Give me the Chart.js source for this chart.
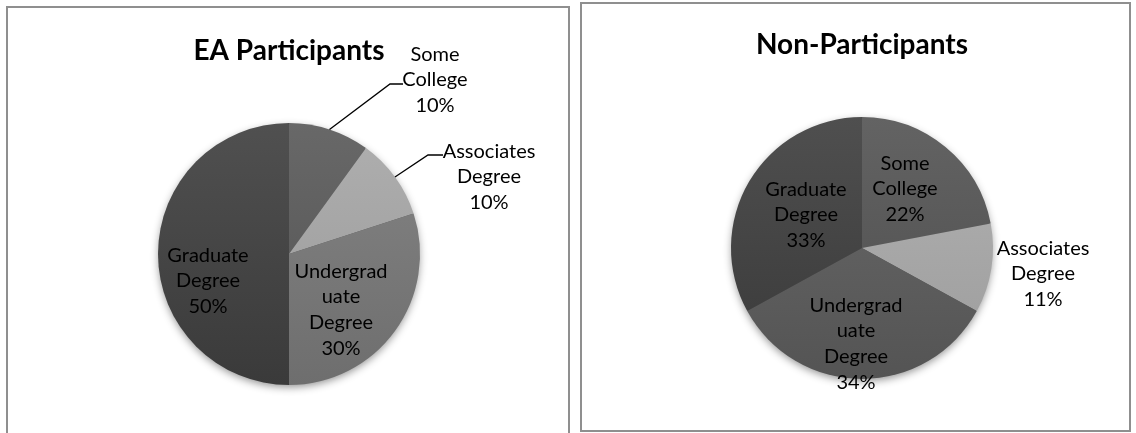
<!DOCTYPE html>
<html lang="en">
<head>
<meta charset="UTF-8">
<title>Education Level: EA Participants vs Non-Participants</title>
<script src="https://cdn.jsdelivr.net/npm/chart.js"></script>
<style>
  html, body { margin: 0; padding: 0; background: #fff; }
  body { width: 1136px; height: 433px; position: relative; overflow: hidden; font-family: Lato, sans-serif; }
  .panel { position: absolute; box-sizing: border-box; border: 2px solid #8f8f8f; background: #fff; }
  #panelA { left: 6px; top: 6px; width: 564px; height: 440px; }
  #panelB { left: 580px; top: 2px; width: 551px; height: 430px; }
  .holder { position: absolute; top: 0; height: 433px; }
  #holderA { left: 0; width: 575px; }
  #holderB { left: 576px; width: 560px; }
</style>
</head>
<body>
<div class="panel" id="panelA"></div>
<div class="panel" id="panelB"></div>
<div class="holder" id="holderA"><canvas id="eaChart"></canvas></div>
<div class="holder" id="holderB"><canvas id="nonChart"></canvas></div>

<script>
const categories = ['Some College', 'Associates Degree', 'Undergraduate Degree', 'Graduate Degree'];
const eaParticipants = [10, 10, 30, 50];
const nonParticipants = [22, 11, 34, 33];

// how each category name breaks over lines inside the pie labels
const labelLines = {
  'Some College': ['Some', 'College'],
  'Associates Degree': ['Associates', 'Degree'],
  'Undergraduate Degree': ['Undergrad', 'uate', 'Degree'],
  'Graduate Degree': ['Graduate', 'Degree']
};

const eaColors = ['#5c5c5c', '#a3a3a3', '#787878', '#444444'];
const nonColors = ['#575757', '#a6a6a6', '#5e5e5e', '#434343'];

// label centre offsets from the pie centre, with optional leader line bends
const eaPlace = [
  { dx: 146, dy: -175, leader: [[-45, 5], [-32, 5]] },
  { dx: 200, dy: -78, leader: [[-61, -21], [-46, -21]] },
  { dx: 52, dy: 55 },
  { dx: -81, dy: 26 }
];
const nonPlace = [
  { dx: 43, dy: -60 },
  { dx: 181, dy: 25 },
  { dx: -6, dy: 95 },
  { dx: -56, dy: -34 }
];

const LABEL_FONT = '20px Lato';
const LINE_H = 25.6;
const CAP = 14.3;

function shade(hex, amt) {
  const v = parseInt(hex.slice(1), 16);
  const c = [v >> 16, (v >> 8) & 255, v & 255].map(n => Math.max(0, Math.min(255, n + amt)));
  return `rgb(${c[0]}, ${c[1]}, ${c[2]})`;
}

function sliceFill(colors) {
  return (ctx) => {
    const base = colors[ctx.dataIndex];
    const area = ctx.chart.chartArea;
    if (!area) return base;
    const g = ctx.chart.ctx.createLinearGradient(0, area.top, 0, area.bottom);
    g.addColorStop(0, shade(base, 12));
    g.addColorStop(1, shade(base, -10));
    return g;
  };
}

function sliceLabels(place) {
  return {
    id: 'sliceLabels',
    beforeDatasetsDraw(chart) {
      // soft shadow under the whole pie
      const arc = chart.getDatasetMeta(0).data[0];
      if (!arc) return;
      const { x, y, outerRadius } = arc.getProps(['x', 'y', 'outerRadius'], true);
      const ctx = chart.ctx;
      ctx.save();
      ctx.shadowColor = 'rgba(0, 0, 0, 0.45)';
      ctx.shadowBlur = 9;
      ctx.shadowOffsetY = 3;
      ctx.fillStyle = '#555';
      ctx.beginPath();
      ctx.arc(x, y, outerRadius - 1, 0, Math.PI * 2);
      ctx.fill();
      ctx.restore();
    },
    afterDatasetsDraw(chart) {
      const ctx = chart.ctx;
      const meta = chart.getDatasetMeta(0);
      const values = chart.data.datasets[0].data;
      ctx.save();
      ctx.font = LABEL_FONT;
      ctx.fillStyle = '#000';
      ctx.strokeStyle = '#000';
      ctx.lineWidth = 1.3;
      ctx.textAlign = 'center';
      ctx.textBaseline = 'alphabetic';
      meta.data.forEach((arc, i) => {
        const p = place[i];
        const { x, y, outerRadius, startAngle, endAngle } =
          arc.getProps(['x', 'y', 'outerRadius', 'startAngle', 'endAngle'], true);
        const cx = x + p.dx;
        const cy = y + p.dy;
        const lines = [...labelLines[chart.data.labels[i]], values[i] + '%'];
        const first = cy - (lines.length - 1) * LINE_H / 2 + CAP / 2;
        lines.forEach((t, k) => ctx.fillText(t, cx, first + k * LINE_H));
        if (p.leader) {
          const mid = (startAngle + endAngle) / 2;
          ctx.beginPath();
          ctx.moveTo(x + Math.cos(mid) * outerRadius, y + Math.sin(mid) * outerRadius);
          p.leader.forEach(([lx, ly]) => ctx.lineTo(cx + lx, cy + ly));
          ctx.stroke();
        }
      });
      ctx.restore();
    }
  };
}

function makeChart(id, title, values, colors, place, pad, titlePad) {
  return new Chart(document.getElementById(id), {
    type: 'pie',
    data: {
      labels: categories,
      datasets: [{
        data: values,
        backgroundColor: sliceFill(colors),
        borderWidth: 0,
        offset: 0,
        hoverOffset: 0
      }]
    },
    options: {
      responsive: true,
      maintainAspectRatio: false,
      animation: false,
      events: [],
      layout: { padding: pad },
      plugins: {
        legend: { display: false },
        tooltip: { enabled: false },
        title: {
          display: true,
          text: title,
          color: '#000',
          font: { family: 'Lato', size: 28, weight: 'bold', lineHeight: 1.2 },
          padding: titlePad
        }
      }
    },
    plugins: [sliceLabels(place)]
  });
}

makeChart('eaChart', 'EA Participants', eaParticipants, eaColors, eaPlace,
  { top: 0, left: 158, right: 155, bottom: 48 }, { top: 34, bottom: 55.4 });
makeChart('nonChart', 'Non-Participants', nonParticipants, nonColors, nonPlace,
  { top: 0, left: 155, right: 143, bottom: 54 }, { top: 28, bottom: 55.4 });
</script>
</body>
</html>
